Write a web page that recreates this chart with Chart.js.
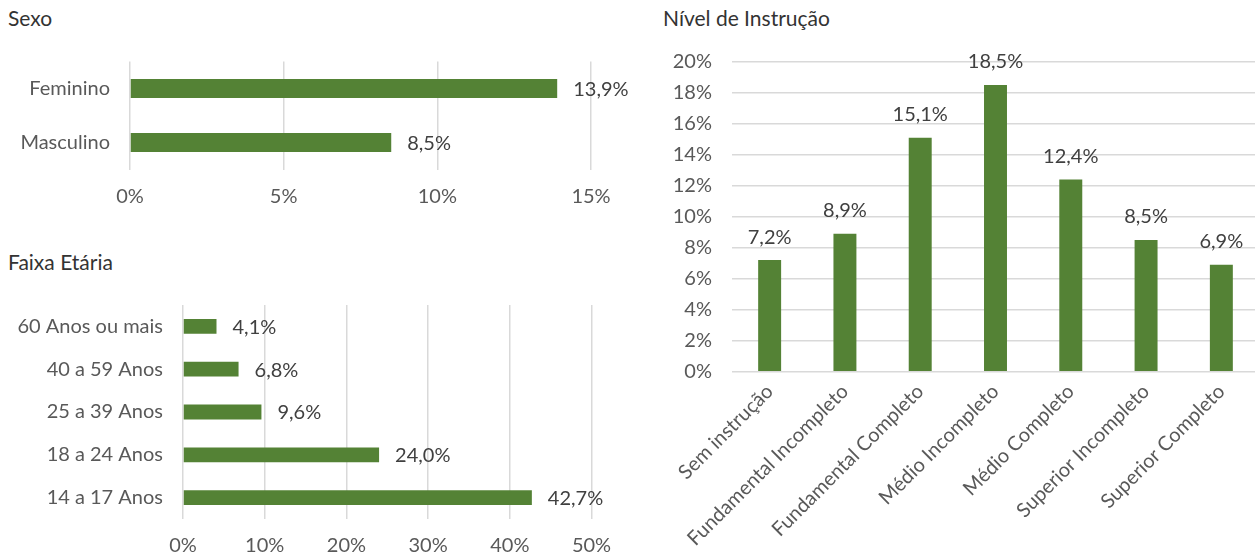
<!DOCTYPE html>
<html>
<head>
<meta charset="utf-8">
<script src="https://cdn.jsdelivr.net/npm/chart.js@4"></script>
<style>
  html, body { margin: 0; padding: 0; background: #fff; overflow: hidden; width: 1255px; height: 559px; }
  canvas { position: absolute; }
  .title { position: absolute; font-family: Lato, "Open Sans", sans-serif; font-size: 21px; color: #333; line-height: 24px; white-space: nowrap; }
</style>
</head>
<body>
<div class="title" style="left:8px; top:6px;">Sexo</div>
<div class="title" style="left:8px; top:250px;">Faixa Etária</div>
<div class="title" style="left:663px; top:6px;">Nível de Instrução</div>
<canvas id="c1" width="640" height="240" style="left:0;top:0;"></canvas>
<canvas id="c2" width="640" height="319" style="left:0;top:240px;"></canvas>
<canvas id="c3" width="610" height="559" style="left:650px;top:0;"></canvas>
<script>
const sexoLabels = ['Feminino', 'Masculino'];
const sexoValues = [13.9, 8.5];
const sexoTicks = [0, 5, 10, 15];

const faixaLabels = ['60 Anos ou mais', '40 a 59 Anos', '25 a 39 Anos', '18 a 24 Anos', '14 a 17 Anos'];
const faixaValues = [4.1, 6.8, 9.6, 24.0, 42.7];
const faixaTicks = [0, 10, 20, 30, 40, 50];

const nivelLabels = ['Sem instrução', 'Fundamental Incompleto', 'Fundamental Completo', 'Médio Incompleto', 'Médio Completo', 'Superior Incompleto', 'Superior Completo'];
const nivelValues = [7.2, 8.9, 15.1, 18.5, 12.4, 8.5, 6.9];
const nivelTicks = [0, 2, 4, 6, 8, 10, 12, 14, 16, 18, 20];

const FONT = 'Lato, "Open Sans", sans-serif';
const FSIZE = 20;
const GREEN = '#548235';
const GRID = '#d9d9d9';
const TICK = '#595959';
const LABEL = '#404040';

Chart.defaults.font.family = FONT;
Chart.defaults.font.size = FSIZE;
Chart.defaults.color = TICK;

const fmt = v => v.toFixed(1).replace('.', ',') + '%';

const valueLabels = {
  id: 'valueLabels',
  afterDatasetsDraw(chart, args, opts) {
    const ctx = chart.ctx;
    const meta = chart.getDatasetMeta(0);
    const data = chart.data.datasets[0].data;
    ctx.save();
    ctx.font = FSIZE + 'px ' + FONT;
    ctx.fillStyle = LABEL;
    meta.data.forEach((el, i) => {
      const txt = fmt(data[i]);
      if (opts.horizontal) {
        ctx.textAlign = 'left';
        ctx.textBaseline = 'middle';
        ctx.fillText(txt, el.x + 16, el.y + 1);
      } else {
        ctx.textAlign = 'center';
        ctx.textBaseline = 'middle';
        ctx.fillText(txt, el.x, el.y - 23);
      }
    });
    ctx.restore();
  }
};

function hBar(id, labels, values, ticks, opts) {
  return new Chart(document.getElementById(id), {
    type: 'bar',
    data: { labels, datasets: [{ data: values, backgroundColor: GREEN, borderWidth: 0,
      barPercentage: opts.barPct, categoryPercentage: 1 }] },
    plugins: [valueLabels],
    options: {
      indexAxis: 'y',
      responsive: false,
      animation: false,
      layout: { padding: opts.padding },
      plugins: { legend: { display: false }, tooltip: { enabled: false }, valueLabels: { horizontal: true } },
      scales: {
        x: {
          min: ticks[0], max: ticks[ticks.length - 1],
          afterBuildTicks: s => { s.ticks = ticks.map(v => ({ value: v })); },
          afterFit: s => { s.height = opts.xHeight; },
          grid: { color: GRID, lineWidth: 1.5, drawTicks: false },
          border: { display: false },
          ticks: { padding: 15, color: TICK, callback: v => v + '%' }
        },
        y: {
          afterFit: s => { s.width = opts.yWidth; },
          grid: { display: false, drawTicks: false },
          border: { display: false },
          ticks: { padding: 20, color: TICK }
        }
      }
    }
  });
}

hBar('c1', sexoLabels, sexoValues, sexoTicks, {
  barPct: 0.35, padding: { left: 0, top: 61.5, right: 49, bottom: 0 }, xHeight: 70.5, yWidth: 130
});
hBar('c2', faixaLabels, faixaValues, faixaTicks, {
  barPct: 0.345, padding: { left: 0, top: 65, right: 48.5, bottom: 0 }, xHeight: 40, yWidth: 183
});

new Chart(document.getElementById('c3'), {
  type: 'bar',
  data: { labels: nivelLabels, datasets: [{ data: nivelValues, backgroundColor: GREEN, borderWidth: 0,
    barPercentage: 0.305, categoryPercentage: 1 }] },
  plugins: [valueLabels],
  options: {
    responsive: false,
    animation: false,
    layout: { padding: { left: 0, top: 61.7, right: 1, bottom: 0 } },
    plugins: { legend: { display: false }, tooltip: { enabled: false }, valueLabels: { horizontal: false } },
    scales: {
      x: {
        afterFit: s => { s.height = 187.3; },
        grid: { display: false, drawTicks: false },
        border: { display: false },
        ticks: { padding: 8, color: TICK, minRotation: 45, maxRotation: 45, autoSkip: false }
      },
      y: {
        min: nivelTicks[0], max: nivelTicks[nivelTicks.length - 1],
        afterBuildTicks: s => { s.ticks = nivelTicks.map(v => ({ value: v })); },
        afterFit: s => { s.width = 82; },
        grid: { color: GRID, lineWidth: 1.5, drawTicks: false },
        border: { display: false },
        ticks: { padding: 20, color: TICK, callback: v => v + '%' }
      }
    }
  }
});
</script>
</body>
</html>
